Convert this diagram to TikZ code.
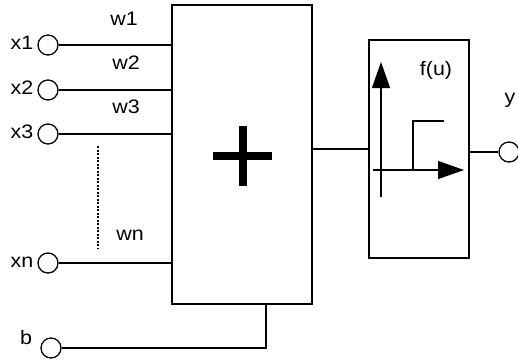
\documentclass[tikz,border=0pt]{standalone}
\usepackage{fontspec}
\setmainfont[FakeStretch=1.1]{Liberation Sans}
\usetikzlibrary{arrows.meta}
\begin{document}
\begin{tikzpicture}[x=1pt,y=-1pt, line width=1.3pt,
  port/.style={circle,draw,minimum size=20pt,inner sep=0pt},
  lbl/.style={font=\fontsize{19.5}{19.5}\selectfont, inner sep=0pt},
  blk/.style={draw, inner sep=0pt},
  axis/.style={-{Triangle[length=26pt,width=18pt]}}]
\useasboundingbox (0,0) rectangle (518,361);
% blocks
\node[blk, minimum width=140pt, minimum height=299pt] (sum) at (242,154.5) {};
\node[blk, minimum width=100pt, minimum height=218pt] (f) at (419,149) {};
% plus sign
\draw[line width=8pt] (213,156) -- (272,156);
\draw[line width=8pt] (243,126) -- (243,186);
% inputs
\node[port] (x1) at (48,45) {};
\node[port] (x2) at (48,90) {};
\node[port] (x3) at (48,134) {};
\node[port] (xn) at (48,263) {};
\node[port] (b) at (51,348) {};
\node[lbl, anchor=east] (lx1) at (34,43) {x1};
\node[lbl, anchor=east] (lx2) at (34,88) {x2};
\node[lbl, anchor=east] (lx3) at (34,132) {x3};
\node[lbl, anchor=east] (lxn) at (34,262) {xn};
\node[lbl] (lb) at (26,338) {b};
\node[lbl] (lw1) at (124,19) {w1};
\node[lbl] (lw2) at (126,63) {w2};
\node[lbl] (lw3) at (126,107) {w3};
\node[lbl] (lwn) at (130,235) {wn};
\draw (x1) -- (x1 -| sum.west);
\draw (x2) -- (x2 -| sum.west);
\draw (x3) -- (x3 -| sum.west);
\draw (xn) -- (xn -| sum.west);
\coordinate (bc) at (266,348);
\draw (b) -- (bc) -- (bc |- sum.south);
\coordinate (d1) at (98,146);
\coordinate (d2) at (98,248);
\draw[dash pattern=on 2pt off 1.5pt, line width=1.2pt] (d1) -- (d2);
% activation
\draw (f.west -| sum.east) -- (f.west);
\node[port] (y) at (509,152) {};
\draw (f.east |- y) -- (y);
\node[lbl] (ly) at (510,100) {y};
\node[lbl] (lf) at (436,70) {f(u)};
\draw[axis] (381,197) -- (381,62);
\draw[axis] (373,170) -- (464,170);
\draw (413,170) -- (413,121) -- (444,121);
\end{tikzpicture}
\end{document}
